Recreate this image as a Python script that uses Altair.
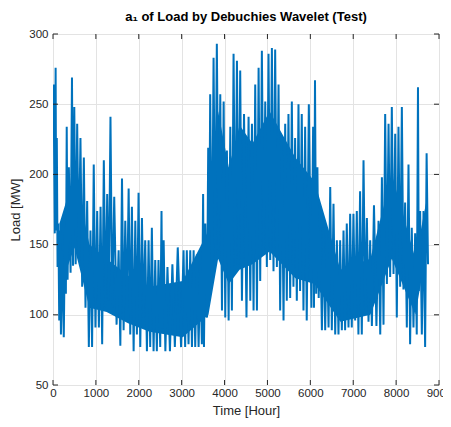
import altair as alt
import pandas as pd

# Segment start hours, with the highest and lowest load seen in each segment
seg_start = [0, 55, 80, 115, 155, 195, 270, 310, 350, 430, 480, 545, 620, 700, 777, 855, 930, 1010, 1090, 1165, 1245, 1320, 1400,
             1510, 1590, 1665, 1745, 1820, 1900, 1975, 2055, 2130, 2210, 2285, 2365, 2440, 2520, 2560, 2640, 2755, 2870,
             3025, 3100, 3180, 3260, 3335, 3415, 3490, 3530, 3610, 3645, 3725, 3800, 3880, 3960, 4035, 4115, 4190, 4270, 4345, 4425,
             4540, 4620, 4695, 4775, 4850, 4930, 5005, 5085, 5160, 5240, 5315, 5395, 5470, 5550, 5625, 5705, 5780, 5860, 5935,
             6055, 6095, 6150, 6210, 6290, 6365, 6445, 6520, 6600, 6675, 6755, 6830, 6910, 6985, 7065, 7140, 7220, 7300, 7375, 7455,
             7570, 7650, 7725, 7805, 7880, 7960, 8035, 8115, 8190, 8270, 8345, 8425, 8500, 8540, 8620, 8695]
seg_end = 8760

load_hi = [264, 276, 226, 165, 160, 146, 162, 234, 205, 269, 248, 236, 226, 212, 181, 160, 207, 174, 177, 210, 186, 241, 184,
           146, 197, 167, 190, 177, 167, 187, 169, 153, 153, 162, 139, 139, 174, 153, 134, 136, 148,
           146, 146, 146, 146, 143, 136, 186, 165, 219, 257, 283, 293, 257, 252, 217, 234, 286, 281, 274, 243,
           241, 236, 264, 276, 288, 252, 286, 290, 289, 264, 226, 236, 243, 252, 226, 250, 243, 234, 250,
           234, 267, 205, 162, 162, 158, 191, 179, 153, 153, 160, 165, 172, 172, 174, 188, 210, 169, 153, 178,
           167, 198, 243, 236, 248, 229, 234, 248, 180, 207, 162, 158, 262, 174, 174, 215]

load_lo = [158, 160, 134, 96, 86, 84, 115, 125, 130, 135, 136, 140, 120, 105, 77, 77, 91, 91, 79, 105, 110, 105, 93,
           78, 89, 103, 86, 74, 86, 77, 98, 74, 77, 74, 74, 77, 90, 74, 74, 77, 77,
           77, 79, 77, 77, 77, 79, 77, 98, 110, 122, 139, 146, 103, 98, 96, 103, 134, 136, 110, 98,
           110, 103, 103, 124, 143, 134, 139, 131, 134, 103, 96, 110, 112, 120, 110, 117, 103, 96, 105,
           105, 115, 112, 89, 89, 91, 89, 86, 86, 89, 89, 91, 91, 96, 86, 86, 103, 95, 92, 92,
           86, 93, 122, 127, 129, 98, 120, 118, 91, 79, 91, 86, 117, 86, 77, 136]

# dense core of the trace (where the daily swings overlap into solid colour), read per block
core_start = [0, 300, 700, 1000, 1500, 2000, 2500, 3550, 3700, 4000, 4200, 4500, 4800, 5300, 6000, 6200, 7200, 7600, 8200, 8700]
core_lo = [118, 148, 105, 102, 94, 88, 84, 100, 140, 122, 132, 136, 145, 126, 122, 95, 100, 140, 100, 150]
core_hi = [165, 200, 150, 140, 128, 120, 124, 160, 245, 205, 235, 222, 245, 212, 195, 132, 140, 200, 140, 185]

x_ticks = [0, 1000, 2000, 3000, 4000, 5000, 6000, 7000, 8000, 9000]
y_ticks = [50, 100, 150, 200, 250, 300]

# zig-zag trace: each segment's high in its first half, its low in its second half
ends = seg_start[1:] + [seg_end]
hours, loads = [], []
for i, (a, b) in enumerate(zip(seg_start, ends)):
    hours += [a + (b - a) * 0.25, a + (b - a) * 0.75]
    loads += [load_hi[i], load_lo[i]]
df = pd.DataFrame({"hour": hours, "load": loads, "k": range(len(hours))})

cends = core_start[1:] + [seg_end]
core_df = pd.DataFrame({"hour": [(a + b) / 2 for a, b in zip(core_start, cends)],
                        "lo": core_lo, "hi": core_hi})

W, H = 386, 351
AX = "#262626"
FONT = "Liberation Sans"
BLUE = "#0072BD"
TL = 5

xs = alt.Scale(domain=[0, 9000], nice=False, zero=False)
ys = alt.Scale(domain=[50, 300], nice=False, zero=False)

xaxis = alt.Axis(values=x_ticks, format="d", title="Time [Hour]", grid=True, ticks=False, tickSize=0,
                 labelPadding=2, labelFontSize=11.5, labelFont=FONT, labelColor=AX,
                 titleFont=FONT, titleFontSize=13, titleFontWeight="normal", titleColor=AX, titlePadding=6,
                 domain=False, gridColor="#E3E3E3", gridWidth=1, labelFlush=False)
yaxis = alt.Axis(values=y_ticks, format="d", title="Load [MW]", grid=True, ticks=False, tickSize=0,
                 labelPadding=5, labelFontSize=11.5, labelFont=FONT, labelColor=AX,
                 titleFont=FONT, titleFontSize=13, titleFontWeight="normal", titleColor=AX, titlePadding=6,
                 domain=False, gridColor="#E3E3E3", gridWidth=1, labelFlush=False)

core = alt.Chart(core_df).mark_area(color=BLUE, opacity=1, interpolate="linear").encode(
    x=alt.X("hour:Q", scale=xs, axis=xaxis),
    y=alt.Y("lo:Q", scale=ys, axis=yaxis),
    y2="hi:Q",
)

line = alt.Chart(df).mark_line(color=BLUE, strokeWidth=2.0, strokeJoin="bevel", clip=True).encode(
    x=alt.X("hour:Q", scale=xs),
    y=alt.Y("load:Q", scale=ys),
    order="k:Q",
)

xt = pd.DataFrame({"t": x_ticks})
yt = pd.DataFrame({"t": y_ticks})
tick_style = dict(color=AX, strokeWidth=1)
xtick_b = alt.Chart(xt).mark_rule(**tick_style).encode(x=alt.X("t:Q", scale=xs), y=alt.value(H), y2=alt.value(H - TL))
xtick_t = alt.Chart(xt).mark_rule(**tick_style).encode(x=alt.X("t:Q", scale=xs), y=alt.value(0), y2=alt.value(TL))
ytick_l = alt.Chart(yt).mark_rule(**tick_style).encode(y=alt.Y("t:Q", scale=ys), x=alt.value(0), x2=alt.value(TL))
ytick_r = alt.Chart(yt).mark_rule(**tick_style).encode(y=alt.Y("t:Q", scale=ys), x=alt.value(W), x2=alt.value(W - TL))

chart = alt.layer(core, line, xtick_b, xtick_t, ytick_l, ytick_r).properties(
    width=W, height=H,
    autosize=alt.AutoSizeParams(type="none"),
    padding={"left": 45, "top": 26, "right": 4, "bottom": 34},
    title=alt.TitleParams(text="a\u2081 of Load by Debuchies Wavelet (Test)", font=FONT, fontSize=13,
                          fontWeight="bold", color="black", anchor="middle", offset=4),
).configure_view(stroke=AX, strokeWidth=1).configure(background="white")

chart.save("out.html", embed_options={"renderer": "svg", "actions": False})
